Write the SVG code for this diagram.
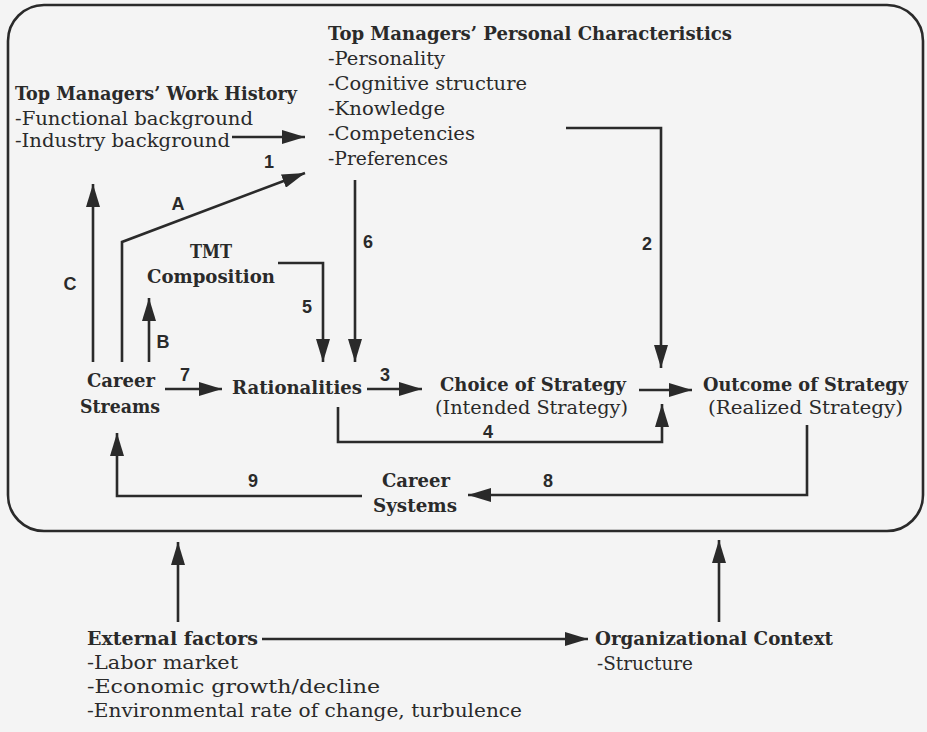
<svg xmlns="http://www.w3.org/2000/svg" width="927" height="732" viewBox="0 0 927 732">
<defs>
<marker id="ah" markerUnits="userSpaceOnUse" markerWidth="23" markerHeight="14" refX="23" refY="7" orient="auto">
<path d="M0,0 L23,7 L0,14 Z" fill="#2a2a2a"/>
</marker>
<style>
.t{font-family:"DejaVu Serif","Liberation Serif",serif;font-size:19px;fill:#2a2a2a}
.b{font-weight:bold}
.n{font-family:"Liberation Sans",Arial,sans-serif;font-weight:bold;font-size:18px;fill:#2a2a2a;text-anchor:middle}
.c{fill:none;stroke:#2a2a2a;stroke-width:2.6;marker-end:url(#ah)}
</style>
</defs>
<rect width="927" height="732" fill="#f4f4f4"/>
<rect id="frame" x="8" y="5" width="915" height="526" rx="36" ry="36" fill="none" stroke="#2a2a2a" stroke-width="2.6"/>

<g id="work-history">
<text class="t b" x="15" y="100" textLength="282" lengthAdjust="spacingAndGlyphs">Top Managers’ Work History</text>
<text class="t" x="15" y="125" textLength="238" lengthAdjust="spacingAndGlyphs">-Functional background</text>
<text class="t" x="15" y="147" textLength="215" lengthAdjust="spacingAndGlyphs">-Industry background</text>
</g>
<g id="personal-characteristics">
<text class="t b" x="328" y="40" textLength="404" lengthAdjust="spacingAndGlyphs">Top Managers’ Personal Characteristics</text>
<text class="t" x="328" y="65" textLength="117" lengthAdjust="spacingAndGlyphs">-Personality</text>
<text class="t" x="328" y="90" textLength="199" lengthAdjust="spacingAndGlyphs">-Cognitive structure</text>
<text class="t" x="328" y="115" textLength="117" lengthAdjust="spacingAndGlyphs">-Knowledge</text>
<text class="t" x="328" y="140" textLength="147" lengthAdjust="spacingAndGlyphs">-Competencies</text>
<text class="t" x="328" y="165" textLength="120" lengthAdjust="spacingAndGlyphs">-Preferences</text>
</g>
<g id="tmt-composition">
<text class="t b" x="190" y="258" textLength="42" lengthAdjust="spacingAndGlyphs">TMT</text>
<text class="t b" x="147" y="283" textLength="128" lengthAdjust="spacingAndGlyphs">Composition</text>
</g>
<g id="career-streams">
<text class="t b" x="87" y="387" textLength="68" lengthAdjust="spacingAndGlyphs">Career</text>
<text class="t b" x="80" y="413" textLength="80" lengthAdjust="spacingAndGlyphs">Streams</text>
</g>
<g id="rationalities">
<text class="t b" x="232" y="394" textLength="130" lengthAdjust="spacingAndGlyphs">Rationalities</text>
</g>
<g id="choice-of-strategy">
<text class="t b" x="440" y="391" textLength="186" lengthAdjust="spacingAndGlyphs">Choice of Strategy</text>
<text class="t" x="435" y="414" textLength="193" lengthAdjust="spacingAndGlyphs">(Intended Strategy)</text>
</g>
<g id="outcome-of-strategy">
<text class="t b" x="703" y="391" textLength="205" lengthAdjust="spacingAndGlyphs">Outcome of Strategy</text>
<text class="t" x="708" y="414" textLength="195" lengthAdjust="spacingAndGlyphs">(Realized Strategy)</text>
</g>
<g id="career-systems">
<text class="t b" x="382" y="487" textLength="68" lengthAdjust="spacingAndGlyphs">Career</text>
<text class="t b" x="373" y="512" textLength="84" lengthAdjust="spacingAndGlyphs">Systems</text>
</g>
<g id="external-factors">
<text class="t b" x="87" y="645" textLength="171" lengthAdjust="spacingAndGlyphs">External factors</text>
<text class="t" x="87" y="669" textLength="151" lengthAdjust="spacingAndGlyphs">-Labor market</text>
<text class="t" x="87" y="693" textLength="293" lengthAdjust="spacingAndGlyphs">-Economic growth/decline</text>
<text class="t" x="87" y="717" textLength="435" lengthAdjust="spacingAndGlyphs">-Environmental rate of change, turbulence</text>
</g>
<g id="organizational-context">
<text class="t b" x="595" y="645" textLength="238" lengthAdjust="spacingAndGlyphs">Organizational Context</text>
<text class="t" x="597" y="670" textLength="96" lengthAdjust="spacingAndGlyphs">-Structure</text>
</g>

<g id="connectors">
<path class="c" d="M232,137 L305,137"/>
<path class="c" d="M122,362 L122,242 L305,173"/>
<path class="c" d="M93,362 L93,184"/>
<path class="c" d="M149,362 L149,298"/>
<path class="c" d="M278,263 L323,263 L323,362"/>
<path class="c" d="M355,180 L355,362"/>
<path class="c" d="M566,128 L661,128 L661,368"/>
<path class="c" d="M165,389 L222,389"/>
<path class="c" d="M367,389 L422,389"/>
<path class="c" d="M639,390 L692,390"/>
<path class="c" d="M338,407 L338,442 L662,442 L662,404"/>
<path class="c" d="M807,425 L807,495 L468,495"/>
<path class="c" d="M362,496 L117,496 L117,433"/>
<path class="c" d="M178,622 L178,542"/>
<path class="c" d="M262,639 L588,639"/>
<path class="c" d="M719,622 L719,540"/>
<text class="n" x="269" y="168">1</text>
<text class="n" x="178" y="210">A</text>
<text class="n" x="70" y="290">C</text>
<text class="n" x="163" y="348">B</text>
<text class="n" x="368" y="248">6</text>
<text class="n" x="307" y="313">5</text>
<text class="n" x="647" y="250">2</text>
<text class="n" x="185" y="381">7</text>
<text class="n" x="385" y="381">3</text>
<text class="n" x="488" y="438">4</text>
<text class="n" x="548" y="487">8</text>
<text class="n" x="253" y="487">9</text>
</g>
</svg>
